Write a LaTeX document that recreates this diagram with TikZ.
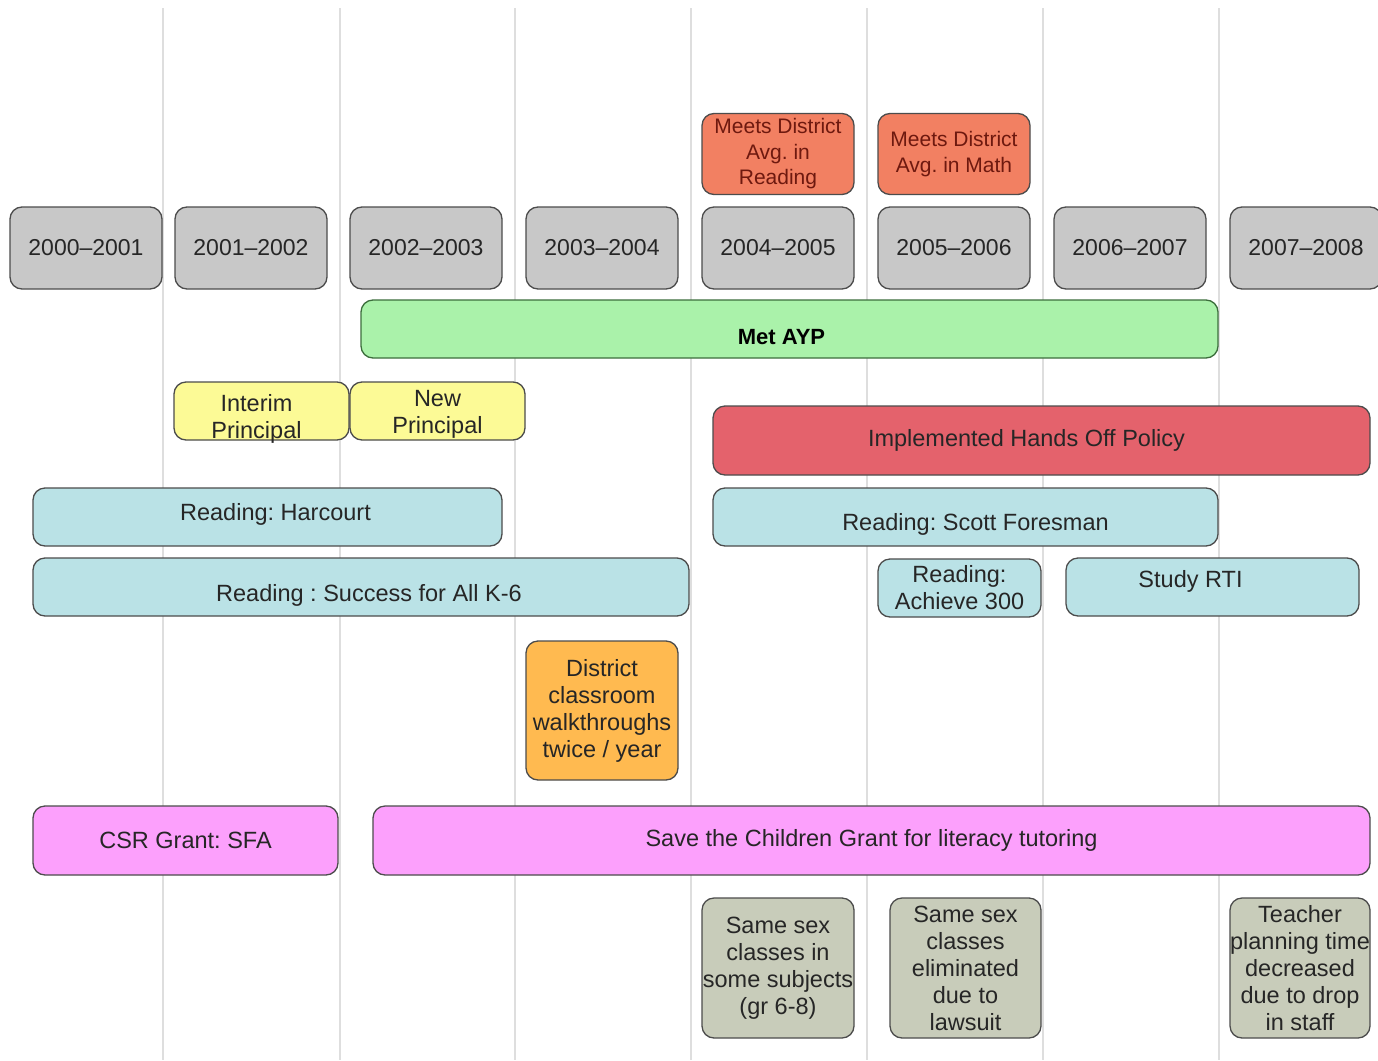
\documentclass[tikz,border=0pt]{standalone}
\usepackage{fontspec}
\setmainfont{Liberation Sans}
\frenchspacing
\definecolor{yeargray}{RGB}{200,200,200}
\definecolor{goalred}{RGB}{242,128,98}
\definecolor{goaltext}{RGB}{110,25,15}
\definecolor{aypgreen}{RGB}{170,242,170}
\definecolor{aypborder}{RGB}{60,110,60}
\definecolor{leadyellow}{RGB}{252,250,150}
\definecolor{policyred}{RGB}{228,98,108}
\definecolor{progblue}{RGB}{186,226,230}
\definecolor{walkorange}{RGB}{255,186,80}
\definecolor{grantpink}{RGB}{252,160,252}
\definecolor{notegray}{RGB}{200,204,186}
\definecolor{gridgray}{RGB}{222,222,222}
\tikzset{
  tbox/.style={draw=black!70, line width=1.3pt, rounded corners=12pt, align=center,
    inner sep=0pt, text=black!85, font=\fontsize{23.5}{27}\selectfont},
  yearbox/.style={tbox, fill=yeargray, minimum width=152pt, minimum height=82pt,
    font=\fontsize{23}{27}\selectfont},
  goalbox/.style={tbox, fill=goalred, text=goaltext, minimum width=152pt, minimum height=81pt,
    font=\fontsize{21}{25.5}\selectfont},
  leadbox/.style={tbox, fill=leadyellow, minimum width=175pt, minimum height=58pt},
  progbox/.style={tbox, fill=progblue, minimum height=58pt},
  grantbox/.style={tbox, fill=grantpink, minimum height=69pt},
  notebox/.style={tbox, fill=notegray, minimum height=140pt},
  gridline/.style={gridgray, line width=1.5pt},
  every label/.append style={font=\fontsize{23.5}{27}\selectfont, text=black!85,
    align=center, inner sep=0pt}
}
\begin{document}
\begin{tikzpicture}[x=1pt, y=-1pt]
    \clip (0,0) rectangle (1378,1060);
    \fill[white] (0,0) rectangle (1378,1060);

    % lineas de los anos
    \foreach \x in {163,340,515,691,867,1043,1219}
        \draw[gridline] (\x,8) -- (\x,1060);

    % anos escolares
    \node[yearbox] (y00) at (86,248) {2000–2001};
    \node[yearbox] (y01) at (251,248) {2001–2002};
    \node[yearbox] (y02) at (426,248) {2002–2003};
    \node[yearbox] (y03) at (602,248) {2003–2004};
    \node[yearbox] (y04) at (778,248) {2004–2005};
    \node[yearbox] (y05) at (954,248) {2005–2006};
    \node[yearbox] (y06) at (1130,248) {2006–2007};
    \node[yearbox] (y07) at (1306,248) {2007–2008};

    % metas del distrito
    \node[goalbox] (readavg) at (778,154) {Meets District\\Avg. in\\Reading};
    \node[goalbox] (mathavg) at (954,154) {Meets District\\Avg. in Math};

    \node[tbox, fill=aypgreen, draw=aypborder, minimum width=857pt, minimum height=58pt,
        label={[xshift=-8pt, yshift=-8pt, font=\fontsize{22}{27}\selectfont\bfseries, text=black]center:Met AYP}]
        (ayp) at (789.5,329) {};

    % direccion
    \node[leadbox, label={[xshift=-5pt, yshift=-8pt]center:Interim\\Principal}] (interim) at (261.5,411) {};
    \node[leadbox, label={[yshift=-3pt]center:New\\Principal}] (newprin) at (437.5,411) {};

    \node[tbox, fill=policyred, minimum width=657pt, minimum height=69pt,
        label={[xshift=-15pt]center:Implemented Hands Off Policy}] (handsoff)
        at (1041.5,440.5) {};

    % programas de lectura
    \node[progbox, minimum width=469pt, label={[xshift=8pt, yshift=3pt]center:Reading: Harcourt}]
        (harcourt) at (267.5,517) {};
    \node[progbox, minimum width=505pt, label={[xshift=10pt, yshift=-7pt]center:Reading: Scott Foresman}]
        (foresman) at (965.5,517) {};
    \node[progbox, minimum width=656pt, label={[xshift=8pt, yshift=-8pt]center:Reading : Success for All K-6}]
        (sfa) at (361,587) {};
    \node[progbox, minimum width=163pt] (achieve) at (959.5,588) {Reading:\\Achieve 300};
    \node[progbox, minimum width=293pt, label={[xshift=-22pt, yshift=6pt]center:Study RTI}]
        (rti) at (1212.5,587) {};

    \node[tbox, fill=walkorange, minimum width=152pt, minimum height=139pt] (walk)
        at (602,710.5) {District\\classroom\\walkthroughs\\twice / year};

    % becas
    \node[grantbox, minimum width=305pt] (csr) at (185.5,840.5) {CSR Grant: SFA};
    \node[grantbox, minimum width=997pt] (children) at (871.5,840.5)
        {Save the Children Grant for literacy tutoring};

    % notas de abajo
    \node[notebox, minimum width=152pt] (samesex) at (778,968) {Same sex\\classes in\\some subjects\\(gr 6-8)};
    \node[notebox, minimum width=151pt] (lawsuit) at (965.5,968) {Same sex\\classes\\eliminated\\due to\\lawsuit};
    \node[notebox, minimum width=140pt] (staff) at (1300,968) {Teacher\\planning time\\decreased\\due to drop\\in staff};

\end{tikzpicture}
\end{document}
